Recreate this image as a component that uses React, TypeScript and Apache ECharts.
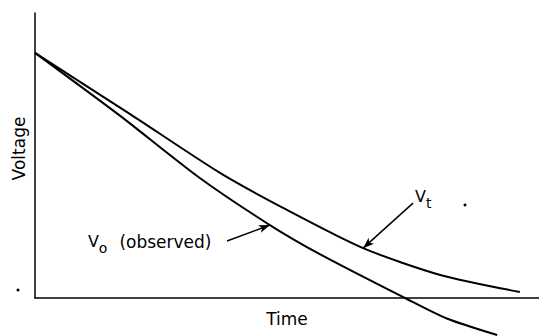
import React, { useEffect, useRef } from "react";
import * as echarts from "echarts";

// Time 0..100 (arbitrary units), voltage 0..100 (arbitrary units)
const vtPoints: [number, number][] = [
  [0, 86.0],
  [18.8, 64.6],
  [36.7, 43.9],
  [50.0, 30.9],
  [65.1, 17.5],
  [80.4, 8.1],
  [96.2, 2.1],
];

const voPoints: [number, number][] = [
  [0, 86.0],
  [16.9, 63.9],
  [32.7, 42.1],
  [46.6, 25.6],
  [56.5, 15.4],
  [73.4, 0],
  [81.7, -7.2],
  [91.7, -13.0],
];

// annotation arrows: [tail, tip]
const voArrow: [number, number][] = [
  [38.1, 20.0],
  [46.6, 25.6],
];
const vtArrow: [number, number][] = [
  [75.0, 33.3],
  [65.1, 17.5],
];
// label anchors
const voLabelAt: [number, number] = [10.5, 18.6];
const vtLabelAt: [number, number] = [75.4, 34.4];

const xTitle = "Time";
const yTitle = "Voltage";

const FONT = "DejaVu Sans";

export default function App() {
  const ref = useRef<HTMLDivElement>(null);
  useEffect(() => {
    if (!ref.current) return;
    const chart = echarts.init(ref.current, undefined, { renderer: "svg" });
    const richStyles = {
      v: { fontSize: 16, fontFamily: FONT, color: "#000", lineHeight: 22, verticalAlign: "top" as const },
      s: { fontSize: 14, fontFamily: FONT, color: "#000", lineHeight: 22, padding: [7, 0, 0, 0], verticalAlign: "top" as const },
      t: { fontSize: 17, fontFamily: FONT, color: "#000", lineHeight: 22, padding: [0, 0, 0, 12], verticalAlign: "top" as const },
    };
    chart.setOption({
      animation: false,
      backgroundColor: "#ffffff",
      grid: { left: 35, top: 13, right: 0, bottom: 38, containLabel: false },
      xAxis: {
        type: "value",
        min: 0,
        max: 100,
        name: xTitle,
        nameLocation: "middle",
        nameGap: 12,
        nameTextStyle: { fontFamily: FONT, fontSize: 17, color: "#000", verticalAlign: "top" },
        axisLine: { show: true, onZero: false, lineStyle: { color: "#000", width: 1.5 } },
        axisTick: { show: false },
        axisLabel: { show: false },
        splitLine: { show: false },
      },
      yAxis: {
        type: "value",
        min: 0,
        max: 100,
        name: yTitle,
        nameLocation: "middle",
        nameGap: 8,
        nameRotate: 90,
        nameTextStyle: { fontFamily: FONT, fontSize: 17, color: "#000", padding: [0, 0, 0, 14] },
        axisLine: { show: true, onZero: false, lineStyle: { color: "#000", width: 1.5 } },
        axisTick: { show: false },
        axisLabel: { show: false },
        splitLine: { show: false },
      },
      series: [
        {
          name: "Vt",
          type: "line",
          data: vtPoints,
          showSymbol: false,
          smooth: 0.25,
          clip: false,
          silent: true,
          lineStyle: { color: "#000", width: 2 },
          markLine: {
            silent: true,
            symbol: ["none", "arrow"],
            symbolSize: [6, 11],
            label: { show: false },
            lineStyle: { color: "#000", width: 1.5, type: "solid" },
            data: [[{ coord: vtArrow[0] }, { coord: vtArrow[1] }]],
          },
          markPoint: {
            silent: true,
            symbol: "circle",
            symbolSize: 0,
            data: [
              {
                coord: vtLabelAt,
                label: {
                  show: true,
                  position: "inside",
                  align: "left",
                  verticalAlign: "middle",
                  formatter: "{v|V}{s|t}",
                  rich: richStyles,
                },
              },
            ],
          },
        },
        {
          name: "Vo (observed)",
          type: "line",
          data: voPoints,
          showSymbol: false,
          smooth: 0.25,
          clip: false,
          silent: true,
          lineStyle: { color: "#000", width: 2 },
          markLine: {
            silent: true,
            symbol: ["none", "arrow"],
            symbolSize: [6, 11],
            label: { show: false },
            lineStyle: { color: "#000", width: 1.5, type: "solid" },
            data: [[{ coord: voArrow[0] }, { coord: voArrow[1] }]],
          },
          markPoint: {
            silent: true,
            symbol: "circle",
            symbolSize: 0,
            data: [
              {
                coord: voLabelAt,
                label: {
                  show: true,
                  position: "inside",
                  align: "left",
                  verticalAlign: "middle",
                  formatter: "{v|V}{s|o}{t|(observed)}",
                  rich: richStyles,
                },
              },
            ],
          },
        },
      ],
      graphic: [
        { type: "circle", shape: { cx: 18, cy: 290, r: 1.5 }, style: { fill: "#000" }, silent: true },
        { type: "circle", shape: { cx: 465, cy: 205, r: 1.5 }, style: { fill: "#000" }, silent: true },
      ],
    });
    return () => chart.dispose();
  }, []);
  return (
    <div
      ref={ref}
      style={{ position: "fixed", left: 0, top: 0, width: 539, height: 336, background: "#fff" }}
    />
  );
}
